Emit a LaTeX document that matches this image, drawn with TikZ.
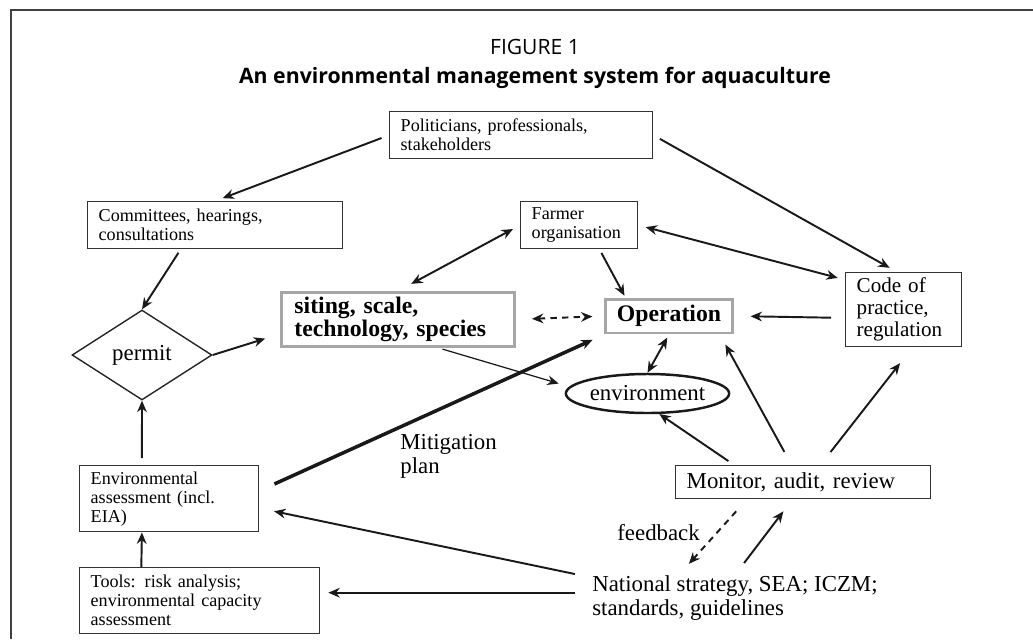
\documentclass[tikz,border=0pt]{standalone}
\usepackage{fontspec}
\setmainfont{Liberation Serif}
\newfontfamily\headfont{Open Sans}
\usetikzlibrary{arrows.meta}
\usetikzlibrary{shapes.geometric}

\newcommand{\boxsize}{\fontsize{10.3}{10.8}\selectfont}
\newcommand{\labelsize}{\fontsize{13}{13.6}\selectfont}
\newcommand{\keysize}{\fontsize{13.5}{13}\selectfont\bfseries}

\tikzstyle{box}=[draw=black!80, line width=0.8pt, anchor=north west, inner xsep=0.22cm, inner ysep=0pt, align=left, font=\boxsize]
\tikzstyle{key box}=[box, draw=black!35, line width=1.7pt, font=\keysize]
\tikzstyle{flow}=[->, line width=1.1pt, black!90]
\tikzstyle{thin flow}=[flow, line width=0.7pt]
\tikzstyle{plan flow}=[flow, line width=2pt]
\tikzstyle{dash flow}=[flow, dash pattern=on 3.6pt off 3pt]

\begin{document}
\begin{tikzpicture}[x=0.02cm, y=-0.02cm, >={Stealth[length=6.5pt,width=5.5pt]}]
  \useasboundingbox (0,0) rectangle (1033,639);
  \draw[black!75, line width=1pt] (11,639) -- (11,10) -- (1033,10);

  \node[font=\headfont\fontsize{12}{14}\selectfont, anchor=base] (fig_num) at (535,54) {FIGURE 1};
  \node[font=\headfont\bfseries\fontsize{12.1}{14}\selectfont, anchor=base] (fig_title) at (535,83) {An environmental management system for aquaculture};

  \node[box, minimum width=5.26cm, minimum height=0.94cm, text width=4.82cm] (pol_box) at (389,111) {Politicians, professionals,\\stakeholders};
  \node[box, minimum width=5.10cm, minimum height=0.94cm, text width=4.66cm] (comm_box) at (87,201) {Committees, hearings,\\consultations};
  \node[box, minimum width=2.34cm, minimum height=0.94cm, text width=1.90cm] (farm_box) at (520,201) {Farmer\\organisation};
  \node[box, minimum width=2.32cm, minimum height=1.48cm, text width=1.88cm, font=\fontsize{12}{12.6}\selectfont] (code_box) at (845,272) {Code of\\practice,\\regulation};
  \node[key box, minimum width=4.66cm, minimum height=1.08cm, text width=4.14cm, inner xsep=0.26cm] (siting_box) at (280,291) {siting, scale,\\technology, species};
  \node[key box, anchor=center, align=center, minimum width=2.36cm, minimum height=0.68cm] (op_box) at (669,316) {Operation};
  \node[diamond, draw=black!85, line width=0.8pt, minimum width=2.8cm, minimum height=1.8cm, inner sep=0pt, aspect=1.55, font=\labelsize] (permit_node) at (142,355) {permit};
  \node[ellipse, draw=black!90, line width=1.4pt, minimum width=2.98cm, minimum height=0.78cm, inner sep=0pt, font=\labelsize] (env_node) at (647.5,393.5) {environment};
  \node[box, minimum width=3.58cm, minimum height=1.32cm, text width=3.14cm] (ea_box) at (79,465) {Environmental\\assessment (incl.\\EIA)};
  \node[box, minimum width=4.80cm, minimum height=1.32cm, text width=4.36cm] (tools_box) at (79,567) {Tools: risk analysis;\\environmental capacity\\assessment};
  \node[box, minimum width=5.10cm, minimum height=0.66cm, text width=4.66cm, font=\labelsize] (mon_box) at (675,465) {Monitor, audit, review};
  \node[anchor=north west, inner sep=0pt, align=left, font=\labelsize] (nat_text) at (592,575) {National strategy, SEA; ICZM;\\standards, guidelines};

  \node[anchor=north west, inner sep=0pt, align=left, font=\labelsize] (plan_label) at (400,434) {Mitigation\\plan};
  \node[anchor=base west, inner sep=0pt, font=\labelsize] (feedback_label) at (617,540) {feedback};

  \draw[flow, shorten <=0.16cm, shorten >=0.16cm] (pol_box.west) -- (comm_box.north);
  \draw[flow, shorten <=0.15cm, shorten >=0.17cm] (pol_box.east) -- (code_box.100);
  \draw[flow, shorten <=0.08cm] (comm_box.215) -- (permit_node.north);
  \draw[flow, <->, shorten <=0.3cm, shorten >=0.16cm] (siting_box.north) -- (farm_box.west);
  \draw[flow, <->, shorten <=0.15cm, shorten >=0.15cm] (farm_box.east) -- (code_box.153);
  \draw[flow, shorten <=0.08cm, shorten >=0.04cm] (farm_box.-50) -- (op_box.157);
  \draw[flow, shorten <=0.28cm, shorten >=0.34cm] (code_box.188) -- (op_box.east);
  \draw[dash flow, <->, shorten <=0.32cm, shorten >=0.24cm] (siting_box.east) -- (op_box.west);
  \draw[flow, shorten >=0.31cm] (permit_node.east) -- (siting_box.187);
  \draw[thin flow, shorten <=0.08cm, shorten >=0.22cm] (siting_box.-35) -- (env_node.175);
  \draw[plan flow, shorten <=0.33cm, shorten >=0.26cm] (ea_box.5) -- (op_box.south west);
  \draw[flow, <->, shorten <=0.07cm] (op_box.south) -- (env_node.north);
  \draw[flow, shorten <=0.14cm] (mon_box.166) -- (env_node.-60);
  \draw[flow, shorten <=0.3cm, shorten >=0.23cm] (mon_box.124) -- (op_box.-20);
  \draw[flow, shorten <=0.33cm, shorten >=0.4cm] (mon_box.45) -- (code_box.-77);
  \draw[dash flow, shorten <=0.32cm, shorten >=0.3cm] (mon_box.197) -- (nat_text.158);
  \draw[flow, shorten <=0.3cm, shorten >=0.3cm] (nat_text.north) -- (mon_box.-122);
  \draw[flow, shorten <=0.35cm, shorten >=0.3cm] (nat_text.172) -- (ea_box.-6);
  \draw[flow, shorten <=0.34cm, shorten >=0.16cm] (nat_text.178) -- (nat_text.178 -| tools_box.east);
  \draw[flow, shorten <=0.14cm] (ea_box.129) -- (permit_node.south);
  \draw[flow] (tools_box.150) -- (ea_box.-129);
\end{tikzpicture}
\end{document}
